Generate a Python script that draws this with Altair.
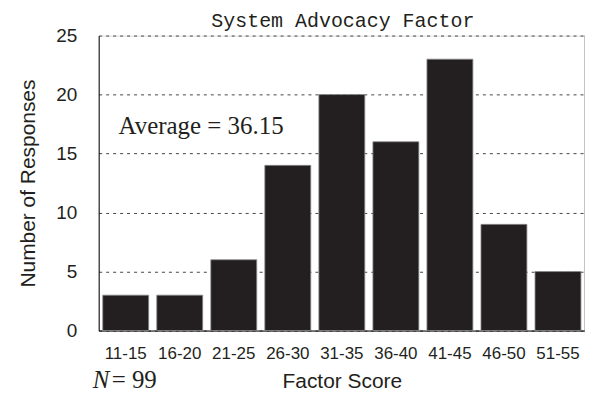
import altair as alt
import pandas as pd

categories = ["11-15", "16-20", "21-25", "26-30", "31-35", "36-40", "41-45", "46-50", "51-55"]
counts = [3, 3, 6, 14, 20, 16, 23, 9, 5]
y_ticks = [0, 5, 10, 15, 20, 25]
title_text = ["System Advocacy Factor"]
x_title = "Factor Score"
y_title = "Number of Responses"
avg_label = ["Average = 36.15"]
n_symbol = ["N"]
n_value = ["= 99"]

W, H = 488, 296
INK = "#231f20"

df = pd.DataFrame({"score": categories, "count": counts})

bars = alt.Chart(df).mark_bar(color=INK, stroke="#8a8a8a", strokeWidth=0.8).encode(
    x=alt.X(
        "score:N",
        sort=categories,
        scale=alt.Scale(paddingInner=0.15, paddingOuter=0.075),
        axis=alt.Axis(
            title=x_title,
            labelAngle=0,
            labelFont="Liberation Sans",
            labelFontSize=17,
            labelColor=INK,
            labelPadding=15,
            ticks=False,
            domainColor="#000000",
            domainWidth=1,
            titleFont="Liberation Sans",
            titleFontSize=21,
            titleFontWeight="normal",
            titleColor=INK,
            titleBaseline="alphabetic",
            titleY=57,
            grid=False,
        ),
    ),
    y=alt.Y(
        "count:Q",
        scale=alt.Scale(domain=[0, 25], nice=False),
        axis=alt.Axis(
            title=y_title,
            values=y_ticks,
            labelFont="Liberation Sans",
            labelFontSize=19,
            labelColor=INK,
            labelPadding=22,
            ticks=False,
            domainColor="#000000",
            domainWidth=1,
            grid=True,
            gridColor="#444444",
            gridDash=[3, 4],
            gridWidth=1,
            titleFont="Liberation Sans",
            titleFontSize=21,
            titleFontWeight="normal",
            titleColor=INK,
            titleAngle=270,
            titleBaseline="alphabetic",
            titleAlign="center",
            titleX=-64,
            titleY=H / 2,
        ),
    ),
)

right_border = alt.Chart(pd.DataFrame({"k": [0]})).mark_rule(color="#8a8a8a", strokeWidth=1).encode(
    x=alt.value(W), y=alt.value(0), y2=alt.value(H)
)

title_mark = alt.Chart(pd.DataFrame({"label": title_text})).mark_text(
    font="Liberation Mono", fontSize=20, color=INK, align="center", baseline="alphabetic"
).encode(text="label:N", x=alt.value(W / 2 + 1), y=alt.value(-9))

avg_text = alt.Chart(pd.DataFrame({"label": avg_label})).mark_text(
    font="Liberation Serif", fontSize=25, color=INK, align="left", baseline="alphabetic"
).encode(text="label:N", x=alt.value(20), y=alt.value(99))

n_sym = alt.Chart(pd.DataFrame({"label": n_symbol})).mark_text(
    font="Liberation Serif", fontSize=25, fontStyle="italic", color=INK, align="left", baseline="alphabetic"
).encode(text="label:N", x=alt.value(-6), y=alt.value(354))

n_val = alt.Chart(pd.DataFrame({"label": n_value})).mark_text(
    font="Liberation Serif", fontSize=25, color=INK, align="left", baseline="alphabetic"
).encode(text="label:N", x=alt.value(13), y=alt.value(354))

chart = (
    alt.layer(bars, right_border, title_mark, avg_text, n_sym, n_val)
    .properties(
        width=W,
        height=H,
        padding={"left": 91, "top": 27, "right": 0, "bottom": 62},
        autosize=alt.AutoSizeParams(type="none"),
    )
    .configure_view(stroke=None)
    .configure(background="white")
)

chart.save("out.html", embed_options={"renderer": "svg", "actions": False})
